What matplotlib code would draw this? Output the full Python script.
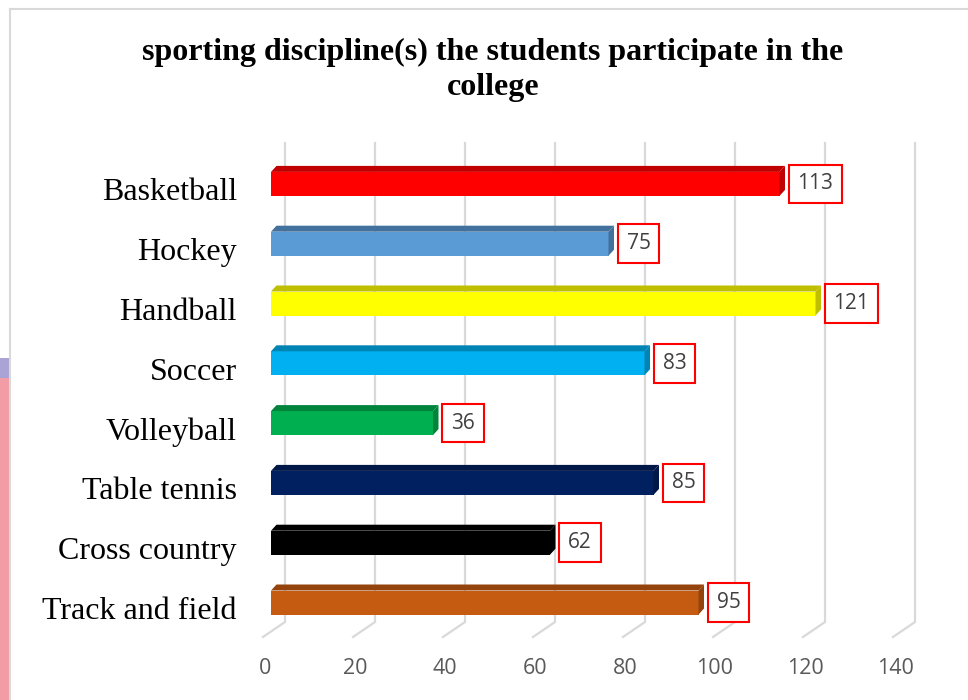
import matplotlib
matplotlib.use("Agg")
import matplotlib.pyplot as plt
from matplotlib.patches import Polygon, Rectangle
from matplotlib.lines import Line2D

# Data
categories = ["Basketball", "Hockey", "Handball", "Soccer", "Volleyball",
              "Table tennis", "Cross country", "Track and field"]
values = [113, 75, 121, 83, 36, 85, 62, 95]
front_colors = ["#FF0000", "#5B9BD5", "#FFFF00", "#00B0F0", "#00B050",
                "#002060", "#000000", "#C55A11"]
shade_colors = ["#C00000", "#41719C", "#BFBF00", "#0084B4", "#00843C",
                "#001848", "#000000", "#94430D"]
ticks = [0, 20, 40, 60, 80, 100, 120, 140]
title = "sporting discipline(s) the students participate in the\ncollege"

W, H = 968, 700
fig = plt.figure(figsize=(W / 100, H / 100), dpi=100)

# plot area in pixels (front plane of the bars)
AX_L, AX_R, AX_T, AX_B = 271, 901, 154, 632.4
ax = fig.add_axes([AX_L / W, 1 - AX_B / H, (AX_R - AX_L) / W, (AX_B - AX_T) / H])
ax.set_xlim(0, 140)
ax.set_ylim(len(categories) - 0.5, -0.5)
ax.axis("off")

px_x = 140 / (AX_R - AX_L)
px_y = len(categories) / (AX_B - AX_T)


def ypix(p):
    return -0.5 + (p - AX_T) * px_y


# 3D-ish gridlines: back wall + floor diagonal
grid_c = "#D9D9D9"
for t in ticks:
    xb = t + 14 * px_x
    xf = t - 8 * px_x
    ax.plot([xb, xb, xf], [ypix(143), ypix(622), ypix(637)], color=grid_c,
            lw=1.6, clip_on=False, zorder=1, solid_joinstyle="miter")
    ax.text(t - 6 * px_x, ypix(668), str(t), ha="center", va="center",
            fontsize=15.5, color="#595959", family="Open Sans", clip_on=False)

# bars with a little top and side face
h = 24 * px_y
dx, dy = 5.5 * px_x, 6 * px_y
ypos = list(range(len(categories)))
ax.barh(ypos, values, height=h, color=front_colors, zorder=3)
for i, (v, sc) in enumerate(zip(values, shade_colors)):
    top = i - h / 2
    bot = i + h / 2
    ax.add_patch(Polygon([(0, top), (v, top), (v + dx, top - dy), (dx, top - dy)],
                         closed=True, fc=sc, ec="none", zorder=3, clip_on=False))
    ax.add_patch(Polygon([(v, top), (v, bot), (v + dx, bot - dy), (v + dx, top - dy)],
                         closed=True, fc=sc, ec="none", zorder=3, clip_on=False))
    ax.annotate(str(v), xy=(v, i), xytext=(13, 0), textcoords="offset points",
                ha="left", va="center", fontsize=15, color="#404040",
                family="Open Sans", zorder=5,
                bbox=dict(boxstyle="square,pad=0.42", fc="white", ec="#FF0000", lw=1.5))
    ax.text(-(AX_L - 237) * px_x, i + 9 * px_y, categories[i], ha="right",
            va="center", fontsize=23, family="Liberation Serif", clip_on=False)

fig.text(493 / W, 1 - 70 / H, title, ha="center", va="center", fontsize=23,
         fontweight="bold", family="Liberation Serif", linespacing=1.28)

# chart frame and the strip at the left edge
fig.add_artist(Line2D([10 / W, 10 / W], [0, 1 - 9 / H], transform=fig.transFigure,
                      color=grid_c, lw=1.5))
fig.add_artist(Line2D([10 / W, 1], [1 - 9 / H, 1 - 9 / H], transform=fig.transFigure,
                      color=grid_c, lw=1.5))
fig.add_artist(Rectangle((0, 0), 9 / W, 1 - 358 / H, transform=fig.transFigure,
                         fc="#F29CA6", ec="none"))
fig.add_artist(Rectangle((0, 1 - 378 / H), 9 / W, 20 / H, transform=fig.transFigure,
                         fc="#A9A3D6", ec="none"))

fig.savefig("out.png", dpi=100)
